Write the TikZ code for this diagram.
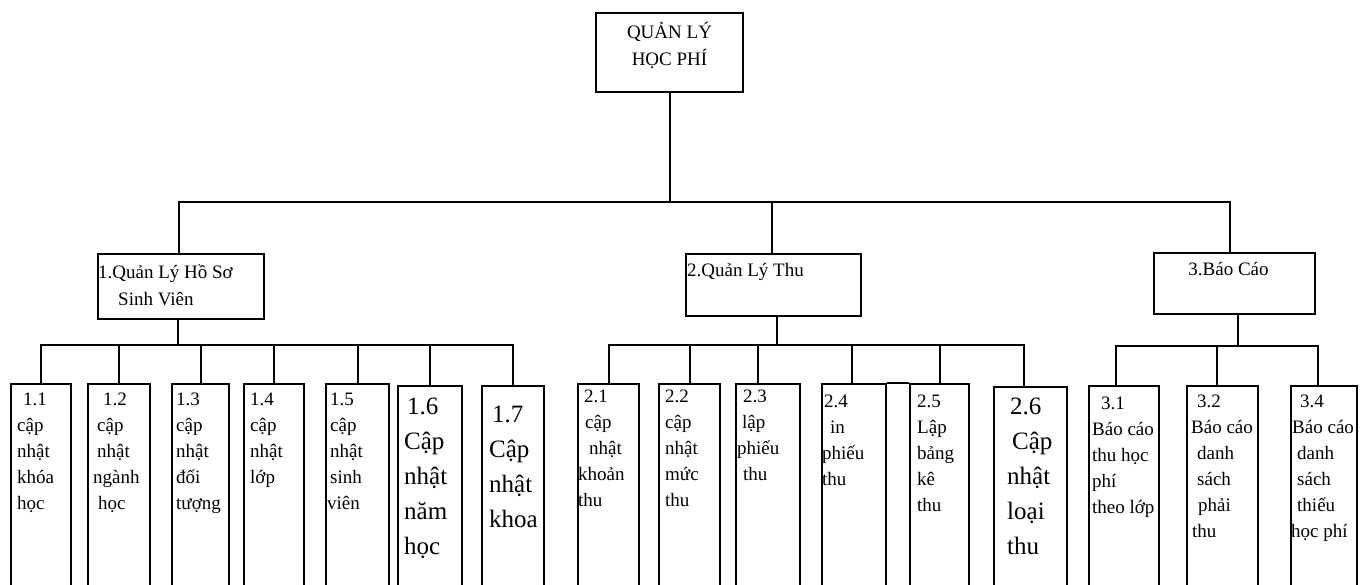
\documentclass[tikz,border=0pt]{standalone}
\usepackage{fontspec}
\setmainfont{Liberation Serif}
\usetikzlibrary{positioning}
\newcommand\headfont{\fontsize{19}{27}\selectfont}
\newcommand\leaffont{\fontsize{19}{26}\selectfont}
\newcommand\leafbigfont{\fontsize{25}{35}\selectfont}
\tikzset{
  box/.style={draw, line width=2pt, inner sep=0pt, anchor=north west},
  leafbox/.style={box, minimum height=260pt},
  link/.style={line width=2pt},
  boxtext/.style={inner sep=0pt, align=left, font=\headfont},
  leaftext/.style={inner sep=0pt, align=left, anchor=north west, font=\leaffont},
  leafbigtext/.style={leaftext, font=\leafbigfont},
}
\begin{document}
\begin{tikzpicture}[x=1pt, y=-1pt]
\clip (0,0) rectangle (1363,584);
\fill[white] (0,0) rectangle (1363,584);

% root and the three branches
\node[box, minimum width=147pt, minimum height=79pt] (top) at (595,12) {};
\node[box, minimum width=166pt, minimum height=65pt] (m1) at (97,253) {};
\node[box, minimum width=175pt, minimum height=62pt] (m2) at (685,253) {};
\node[box, minimum width=161pt, minimum height=61pt] (m3) at (1153,252) {};

\node[boxtext, anchor=north, align=center] (ttop) at ([yshift=-10pt]top.north) {QUẢN LÝ\\HỌC PHÍ};
\node[boxtext, anchor=north west] (tm1) at ([xshift=1pt, yshift=-12pt]m1.north west) {1.Quản Lý Hồ Sơ\\\hspace{20pt}Sinh Viên};
\node[boxtext, anchor=north west] (tm2) at ([xshift=2pt, yshift=-10pt]m2.north west) {2.Quản Lý Thu};
\node[boxtext, anchor=north] (tm3) at ([xshift=-6pt, yshift=-10pt]m3.north) {3.Báo Cáo};

% leaves
\foreach \n/\x/\y/\w in {l11/10/383/60, l12/87/383/62, l13/171/383/57, l14/243/383/60,
    l15/325/383/63, l16/397/385/64, l17/481/385/62,
    l21/577/383/61, l22/658/383/61, l23/735/383/64, l24/821/383/64, l25/909/383/59, l26/993/386/73,
    l31/1088/385/70, l32/1186/385/71, l34/1290/385/66}
  \node[leafbox, minimum width=\w pt] (\n) at (\x,\y) {};

\node[leaftext] (t11) at ([xshift=7pt, yshift=-10pt]l11.north west) {\hspace{6pt}1.1\\cập\\nhật\\khóa\\học};
\node[leaftext] (t12) at ([xshift=6pt, yshift=-10pt]l12.north west) {\hspace{10pt}1.2\\\hspace{4pt}cập\\\hspace{4pt}nhật\\ngành\\\hspace{5pt}học};
\node[leaftext] (t13) at ([xshift=5pt, yshift=-10pt]l13.north west) {1.3\\cập\\nhật\\đối\\tượng};
\node[leaftext] (t14) at ([xshift=7pt, yshift=-10pt]l14.north west) {1.4\\cập\\nhật\\lớp};
\node[leaftext] (t15) at ([xshift=5pt, yshift=-10pt]l15.north west) {1.5\\cập\\nhật\\sinh\\\hspace{-3pt}viên};
\node[leafbigtext] (t16) at ([xshift=7pt, yshift=-13pt]l16.north west) {\hspace{3pt}1.6\\Cập\\nhật\\năm\\học};
\node[leafbigtext] (t17) at ([xshift=8pt, yshift=-21pt]l17.north west) {\hspace{3pt}1.7\\Cập\\nhật\\khoa};

\node[leaftext] (t21) at ([xshift=1pt, yshift=-7pt]l21.north west) {\hspace{6pt}2.1\\\hspace{7pt}cập\\\hspace{11pt}nhật\\khoản\\thu};
\node[leaftext] (t22) at ([xshift=7pt, yshift=-7pt]l22.north west) {2.2\\cập\\nhật\\mức\\thu};
\node[leaftext] (t23) at ([xshift=2pt, yshift=-7pt]l23.north west) {\hspace{6pt}2.3\\\hspace{5pt}lập\\phiếu\\\hspace{6pt}thu};
\node[leaftext] (t24) at ([xshift=1pt, yshift=-12pt]l24.north west) {\hspace{2pt}2.4\\\hspace{8pt}in\\phiếu\\thu};
\node[leaftext] (t25) at ([xshift=8pt, yshift=-12pt]l25.north west) {2.5\\Lập\\bảng\\kê\\thu};
\node[leafbigtext] (t26) at ([xshift=14pt, yshift=-12pt]l26.north west) {\hspace{3pt}2.6\\\hspace{5pt}Cập\\nhật\\loại\\thu};

\node[leaftext] (t31) at ([xshift=4pt, yshift=-12pt]l31.north west) {\hspace{9pt}3.1\\Báo cáo\\thu học\\phí\\theo lớp};
\node[leaftext] (t32) at ([xshift=5pt, yshift=-10pt]l32.north west) {\hspace{6pt}3.2\\Báo cáo\\\hspace{6pt}danh\\\hspace{6pt}sách\\\hspace{7pt}phải\\\hspace{1pt}thu};
\node[leaftext] (t34) at ([xshift=1pt, yshift=-10pt]l34.north west) {\hspace{9pt}3.4\\\hspace{1pt}Báo cáo\\\hspace{6pt}danh\\\hspace{6pt}sách\\\hspace{6pt}thiếu\\học phí};

% connectors
\draw[link] (top.south) -- ++(0,109) coordinate (hub);
\foreach \m/\d in {m1/-2, m2/-2, m3/-5}
  \draw[link] (hub) -| ([xshift=\d pt]\m.north);

\draw[link] ([xshift=-3pt]m1.south) -- ++(0,25) coordinate (bus1);
\foreach \l in {l11,l12,l13,l14,l15,l16,l17}
  \draw[link] (bus1) -| (\l.north);

\draw[link] ([xshift=3pt]m2.south) -- ++(0,28) coordinate (bus2);
\foreach \l/\d in {l21/0, l22/0, l23/-10, l24/-2, l25/0, l26/-7}
  \draw[link] (bus2) -| ([xshift=\d pt]\l.north);
\draw[link] (l24.north east) -- (l25.north west);

\draw[link] ([xshift=3pt]m3.south) -- ++(0,31) coordinate (bus3);
\foreach \l/\d in {l31/-8, l32/-6, l34/-6}
  \draw[link] (bus3) -| ([xshift=\d pt]\l.north);
\end{tikzpicture}
\end{document}
